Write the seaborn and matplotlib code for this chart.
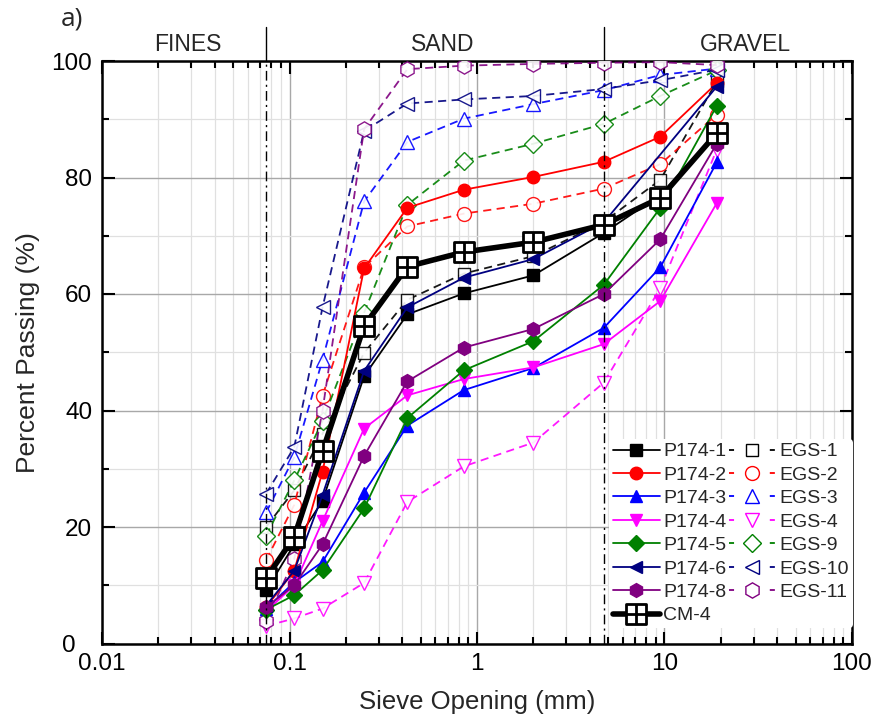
import matplotlib
matplotlib.use("Agg")
import matplotlib.pyplot as plt
import matplotlib.transforms as mtransforms
import seaborn as sns
from matplotlib.lines import Line2D
from matplotlib.path import Path
from matplotlib.ticker import FixedLocator, FuncFormatter, MultipleLocator, NullFormatter

# Sieve openings (mm)
sieve_mm = [0.075, 0.106, 0.15, 0.25, 0.425, 0.85, 2.0, 4.75, 9.5, 19.0]

# Percent passing, field samples (None = not measured)
p174_1 = [9.1, 17.0, 24.5, 45.9, 56.5, 60.1, 63.2, 70.5, 77.0, 87.5]
p174_2 = [6.2, 12.5, 29.5, 64.4, 74.8, 77.9, 80.1, 82.7, 87.0, 96.2]
p174_3 = [6.0, 10.5, 14.0, 25.9, 37.4, 43.5, 47.3, 54.2, 64.6, 82.6]
p174_4 = [5.5, 10.0, 21.0, 36.9, 42.6, 45.4, 47.4, 51.4, 58.8, 75.6]
p174_5 = [5.8, 8.3, 12.6, 23.2, 38.7, 46.9, 51.9, 61.6, 74.8, 92.3]
p174_6 = [6.5, 12.5, 25.5, 46.8, 57.7, 62.8, 66.0, 72.3, None, 95.6]
p174_8 = [6.2, 10.0, 17.0, 32.2, 45.0, 50.8, 54.0, 60.0, 69.4, 85.8]

# Percent passing, EGS samples
egs_1 = [20.0, 26.3, 36.0, 49.9, 59.0, 63.5, 66.5, 72.4, 79.6, 96.5]
egs_2 = [14.3, 23.8, 42.5, 64.6, 71.6, 73.8, 75.5, 78.1, 82.3, 90.8]
egs_3 = [22.5, 32.0, 48.7, 75.9, 86.1, 90.1, 92.6, 95.0, 97.6, 98.7]
egs_4 = [3.0, 4.3, 6.0, 10.4, 24.3, 30.4, 34.5, 44.8, 61.0, 84.8]
egs_9 = [18.5, 28.0, 38.2, 56.8, 75.3, 82.9, 85.8, 89.2, 94.0, 98.4]
egs_10 = [25.7, 33.7, 57.7, 88.0, 92.7, 93.4, 94.0, 95.2, 96.7, 98.5]
egs_11 = [3.8, 14.5, 40.0, 88.3, 98.6, 99.2, 99.5, 99.7, 99.8, 99.3]

# Composite
cm_4 = [11.2, 18.3, 33.0, 54.5, 64.7, 67.2, 68.9, 71.9, 76.5, 87.6]

p174_names = ["P174-1", "P174-2", "P174-3", "P174-4", "P174-5", "P174-6", "P174-8"]
egs_names = ["EGS-1", "EGS-2", "EGS-3", "EGS-4", "EGS-9", "EGS-10", "EGS-11"]
p174_vals = [p174_1, p174_2, p174_3, p174_4, p174_5, p174_6, p174_8]
egs_vals = [egs_1, egs_2, egs_3, egs_4, egs_9, egs_10, egs_11]
colors = ["#000000", "#ff0000", "#0000ff", "#ff00ff", "#008000", "#000080", "#800080"]
markers = ["s", "o", "^", "v", "D", "<", "h"]
msizes = [8, 9, 9, 9, 8, 9, 10]

region_names = ["FINES", "SAND", "GRAVEL"]
region_x = [0.0286, 0.66, 26.9]
boundaries = [0.075, 4.75]


def measured(values):
    """Pair sieve sizes with values, skipping sizes that were not measured."""
    pairs = [(s, v) for s, v in zip(sieve_mm, values) if v is not None]
    return [p[0] for p in pairs], [p[1] for p in pairs]


sns.set_style("ticks")
plt.rcParams["font.family"] = ["Liberation Sans", "DejaVu Sans"]

fig = plt.figure(figsize=(8.86, 7.26), dpi=100)
ax = fig.add_axes([102 / 886, 1 - 643.5 / 726, 750 / 886, 582.5 / 726])

LW = 1.3
egs_dash = (0, (4.5, 3.0))

# EGS curves: dashed, open markers
for name, vals, c, m, ms in zip(egs_names, egs_vals, colors, markers, msizes):
    xs, ys = measured(vals)
    sns.lineplot(x=xs, y=ys, ax=ax, color=c, linewidth=LW,
                 linestyle=egs_dash, marker=m, markersize=ms + 1,
                 markerfacecolor="white", markeredgecolor=c,
                 markeredgewidth=1.0, alpha=0.9, legend=False, zorder=3)

# P174 curves: solid, filled markers
for name, vals, c, m, ms in zip(p174_names, p174_vals, colors, markers, msizes):
    xs, ys = measured(vals)
    sns.lineplot(x=xs, y=ys, ax=ax, color=c, linewidth=LW,
                 marker=m, markersize=ms, markerfacecolor=c,
                 markeredgecolor=c, markeredgewidth=1.0,
                 legend=False, zorder=4)

# Square-with-cross marker for the composite curve
box_cross = Path(
    [(-1, -1), (1, -1), (1, 1), (-1, 1), (-1, -1), (0, -1), (0, 1), (-1, 0), (1, 0)],
    [Path.MOVETO, Path.LINETO, Path.LINETO, Path.LINETO, Path.CLOSEPOLY,
     Path.MOVETO, Path.LINETO, Path.MOVETO, Path.LINETO])
xs, ys = measured(cm_4)
sns.lineplot(x=xs, y=ys, ax=ax, color="black", linewidth=4.0,
             marker=box_cross, markersize=14, markerfacecolor="white",
             markeredgecolor="black", markeredgewidth=2.0,
             legend=False, zorder=6)

# Soil class boundaries
for b in boundaries:
    ax.axvline(b, color="black", lw=1.0, ls=(0, (7, 3, 1.5, 3)), zorder=7)
    ax.plot([b, b], [100, 105.8], color="black", lw=1.0, clip_on=False)
for name, xpos in zip(region_names, region_x):
    ax.text(xpos, 102.8, name, ha="center", va="center", fontsize=16.5)

ax.set_xscale("log")
ax.set_xlim(0.01, 100)
ax.set_ylim(0, 100)
ax.xaxis.set_major_locator(FixedLocator([0.01, 0.1, 1, 10, 100]))
ax.xaxis.set_major_formatter(FuncFormatter(lambda v, p: f"{v:g}"))
ax.xaxis.set_minor_locator(FixedLocator(
    [k * 10.0 ** e for e in range(-2, 2) for k in range(2, 10)]))
ax.xaxis.set_minor_formatter(NullFormatter())
ax.yaxis.set_major_locator(FixedLocator([0, 20, 40, 60, 80, 100]))
ax.yaxis.set_major_formatter(FuncFormatter(lambda v, p: f"{v:g}"))
ax.yaxis.set_minor_locator(MultipleLocator(10))

ax.grid(which="major", color="#a8a8a8", lw=1.0, zorder=0)
ax.grid(which="minor", color="#e0e0e0", lw=0.9, zorder=0)
ax.set_axisbelow(True)

ax.tick_params(which="both", direction="in", top=True, right=True,
               labelsize=17.5, pad=7, width=1.5, colors="black")
ax.tick_params(which="major", length=9)
ax.tick_params(which="minor", length=5)
for sp in ax.spines.values():
    sp.set_linewidth(1.8)
    sp.set_color("black")

# Nudge the "0" label left so it clears the "0.01" label
zero_label = ax.yaxis.get_major_ticks()[0].label1
zero_label.set_transform(zero_label.get_transform() +
                         mtransforms.ScaledTranslation(-0.17, 0, fig.dpi_scale_trans))

ax.set_xlabel("Sieve Opening (mm)", fontsize=18.5, labelpad=11)
ax.set_ylabel("Percent Passing (%)", fontsize=19, labelpad=8)

fig.text(72 / 886, 1 - 19 / 726, "a)", fontsize=19, ha="center", va="center",
         family=["Open Sans", "DejaVu Sans"])

# Legend: P174 and composite in the first column, EGS in the second
handles, labels = [], []
for name, c, m, ms in zip(p174_names, colors, markers, msizes):
    handles.append(Line2D([], [], color=c, lw=LW, marker=m, markersize=ms,
                          markerfacecolor=c, markeredgecolor=c))
    labels.append(name)
handles.append(Line2D([], [], color="black", lw=4.0, marker=box_cross,
                      markersize=14, markerfacecolor="white",
                      markeredgecolor="black", markeredgewidth=2.0))
labels.append("CM-4")
for name, c, m, ms in zip(egs_names, colors, markers, msizes):
    handles.append(Line2D([], [], color=c, lw=LW, ls=(0, (2.8, 19.8)),
                          marker=m, markersize=ms + 1, markerfacecolor="white",
                          markeredgecolor=c, markeredgewidth=1.0))
    labels.append(name)

leg = ax.legend(handles, labels, ncol=2, loc="lower left",
                bbox_to_anchor=(0.676, 0.026), fontsize=14, frameon=True,
                framealpha=1.0, facecolor="white", edgecolor="none",
                handlelength=2.4, handletextpad=0.2, columnspacing=0.1,
                labelspacing=0.3, borderpad=0.2, borderaxespad=0.0)
leg.set_zorder(8)

fig.savefig("out.png", dpi=100)
